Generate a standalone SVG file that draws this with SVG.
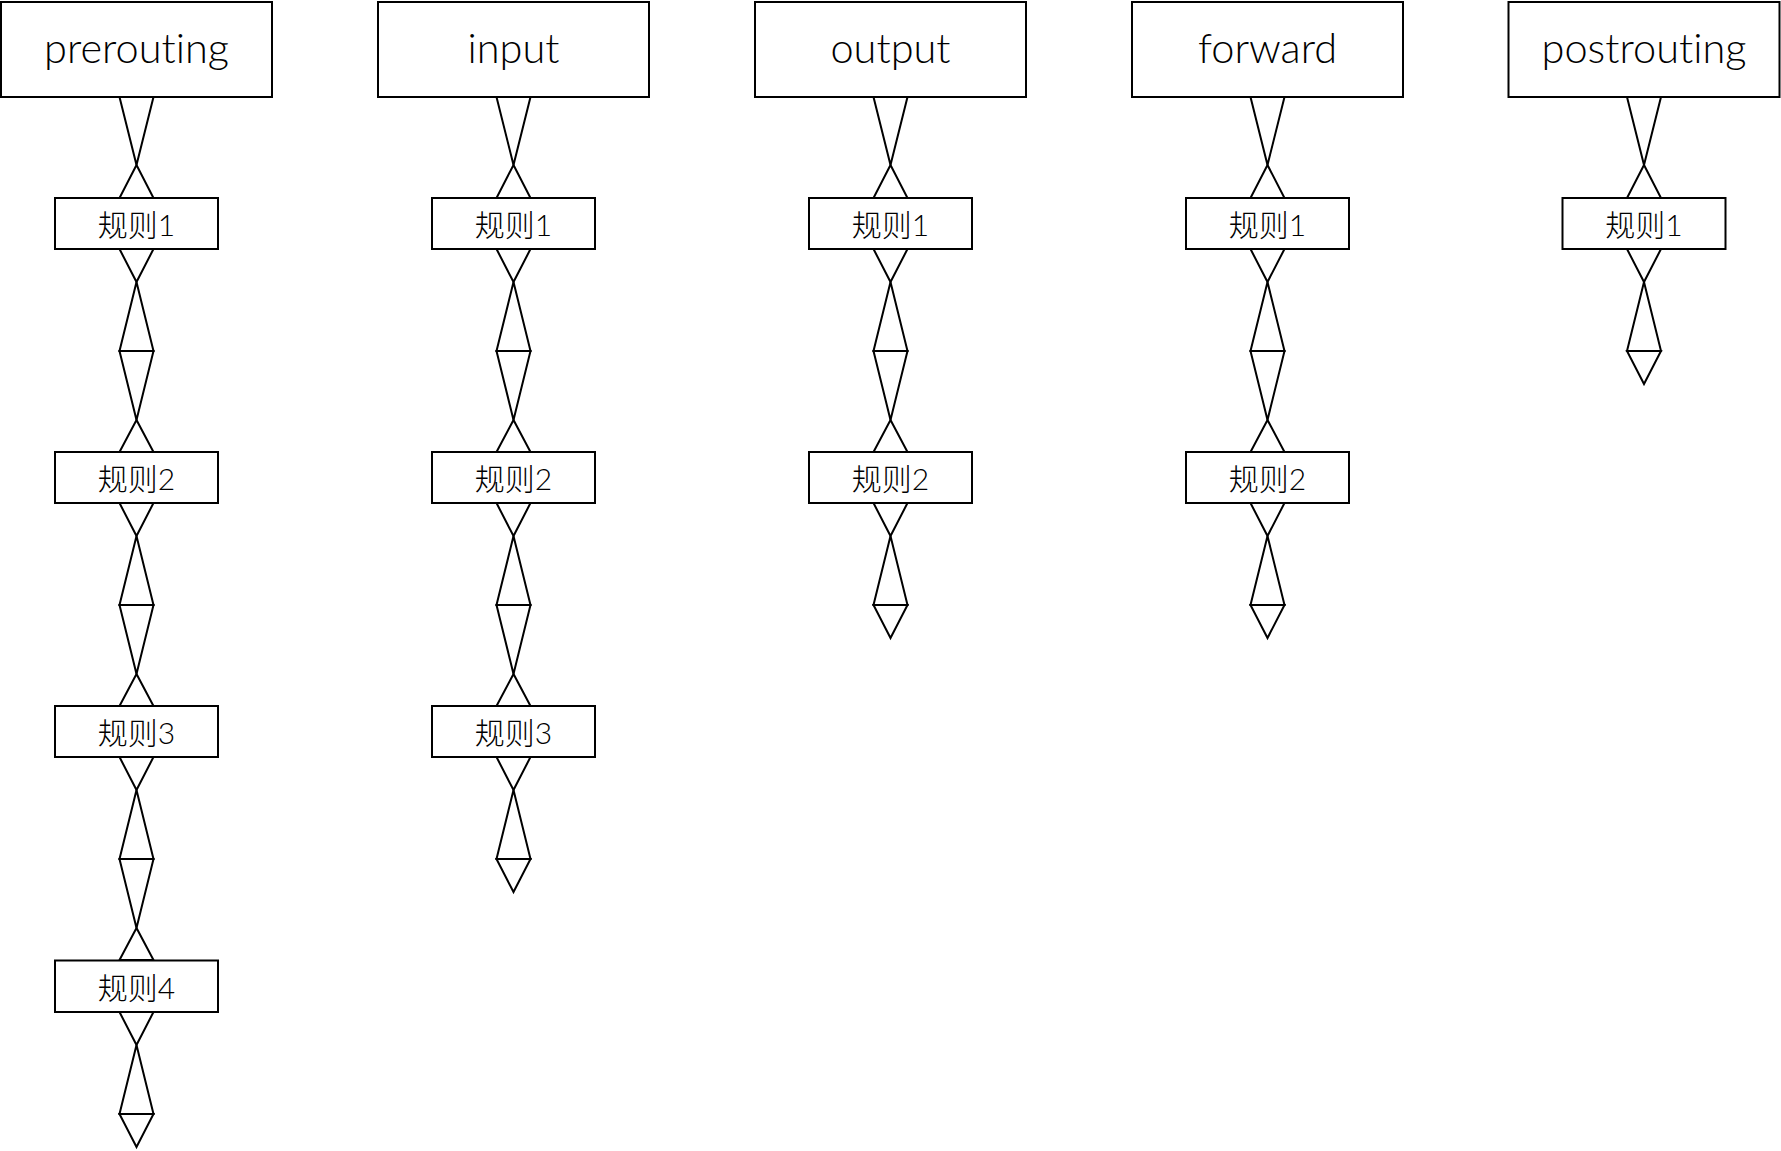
<svg xmlns="http://www.w3.org/2000/svg" xmlns:xlink="http://www.w3.org/1999/xlink" width="1781" height="1151" viewBox="0 0 1781 1151">
<style>
.box{fill:#fff;stroke:#000;stroke-width:2}
.h{font-family:Lato,"Open Sans","Noto Sans",sans-serif;font-size:41.5px;font-weight:300;fill:#000;text-anchor:middle;font-variant-ligatures:none}
.r{font-family:Lato,"Noto Sans CJK SC",sans-serif;font-size:30px;font-weight:300;fill:#000;text-anchor:middle}
</style>
<defs>
<g id="top" fill="#fff" stroke="#000" stroke-width="2" stroke-linejoin="miter">
<polygon points="-17,0 17,0 0,68"/><polygon points="0,68 -17,101 17,101"/>
</g>
<g id="mid" fill="#fff" stroke="#000" stroke-width="2" stroke-linejoin="miter">
<polygon points="-17,0 17,0 0,33"/><polygon points="0,33 -17,102 17,102"/><polygon points="-17,102 17,102 0,171"/><polygon points="0,171 -17,203 17,203"/>
</g>
<g id="tail" fill="#fff" stroke="#000" stroke-width="2" stroke-linejoin="miter">
<polygon points="-17,0 17,0 0,33"/><polygon points="0,33 -17,102 17,102"/><polygon points="-17,102 17,102 0,135"/>
</g>
</defs>
<rect width="1781" height="1151" fill="#fff"/>
<g id="connectors">
<use xlink:href="#top" x="136.5" y="97"/>
<use xlink:href="#mid" x="136.5" y="249"/>
<use xlink:href="#mid" x="136.5" y="503"/>
<use xlink:href="#mid" x="136.5" y="757"/>
<use xlink:href="#tail" x="136.5" y="1012"/>
<use xlink:href="#top" x="513.5" y="97"/>
<use xlink:href="#mid" x="513.5" y="249"/>
<use xlink:href="#mid" x="513.5" y="503"/>
<use xlink:href="#tail" x="513.5" y="757"/>
<use xlink:href="#top" x="890.5" y="97"/>
<use xlink:href="#mid" x="890.5" y="249"/>
<use xlink:href="#tail" x="890.5" y="503"/>
<use xlink:href="#top" x="1267.5" y="97"/>
<use xlink:href="#mid" x="1267.5" y="249"/>
<use xlink:href="#tail" x="1267.5" y="503"/>
<use xlink:href="#top" x="1644" y="97"/>
<use xlink:href="#tail" x="1644" y="249"/>
</g>
<g id="prerouting"><rect class="box" x="1" y="2" width="271" height="95"/><text class="h" x="136.5" y="63">prerouting</text></g>
<g id="input"><rect class="box" x="378" y="2" width="271" height="95"/><text class="h" x="513.5" y="63">input</text></g>
<g id="output"><rect class="box" x="755" y="2" width="271" height="95"/><text class="h" x="890.5" y="63">output</text></g>
<g id="forward"><rect class="box" x="1132" y="2" width="271" height="95"/><text class="h" x="1267.5" y="63">forward</text></g>
<g id="postrouting"><rect class="box" x="1508.5" y="2" width="271" height="95"/><text class="h" x="1644" y="63">postrouting</text></g>

<g id="pre_r1"><rect class="box" x="55" y="198" width="163" height="51"/><text class="r" x="136.5" y="236">规则1</text></g>
<g id="pre_r2"><rect class="box" x="55" y="452" width="163" height="51"/><text class="r" x="136.5" y="490">规则2</text></g>
<g id="pre_r3"><rect class="box" x="55" y="706" width="163" height="51"/><text class="r" x="136.5" y="744">规则3</text></g>
<g id="pre_r4"><rect class="box" x="55" y="960.5" width="163" height="51.5"/><text class="r" x="136.5" y="999">规则4</text></g>

<g id="in_r1"><rect class="box" x="432" y="198" width="163" height="51"/><text class="r" x="513.5" y="236">规则1</text></g>
<g id="in_r2"><rect class="box" x="432" y="452" width="163" height="51"/><text class="r" x="513.5" y="490">规则2</text></g>
<g id="in_r3"><rect class="box" x="432" y="706" width="163" height="51"/><text class="r" x="513.5" y="744">规则3</text></g>

<g id="out_r1"><rect class="box" x="809" y="198" width="163" height="51"/><text class="r" x="890.5" y="236">规则1</text></g>
<g id="out_r2"><rect class="box" x="809" y="452" width="163" height="51"/><text class="r" x="890.5" y="490">规则2</text></g>

<g id="fwd_r1"><rect class="box" x="1186" y="198" width="163" height="51"/><text class="r" x="1267.5" y="236">规则1</text></g>
<g id="fwd_r2"><rect class="box" x="1186" y="452" width="163" height="51"/><text class="r" x="1267.5" y="490">规则2</text></g>

<g id="post_r1"><rect class="box" x="1562.5" y="198" width="163" height="51"/><text class="r" x="1644" y="236">规则1</text></g>
</svg>
